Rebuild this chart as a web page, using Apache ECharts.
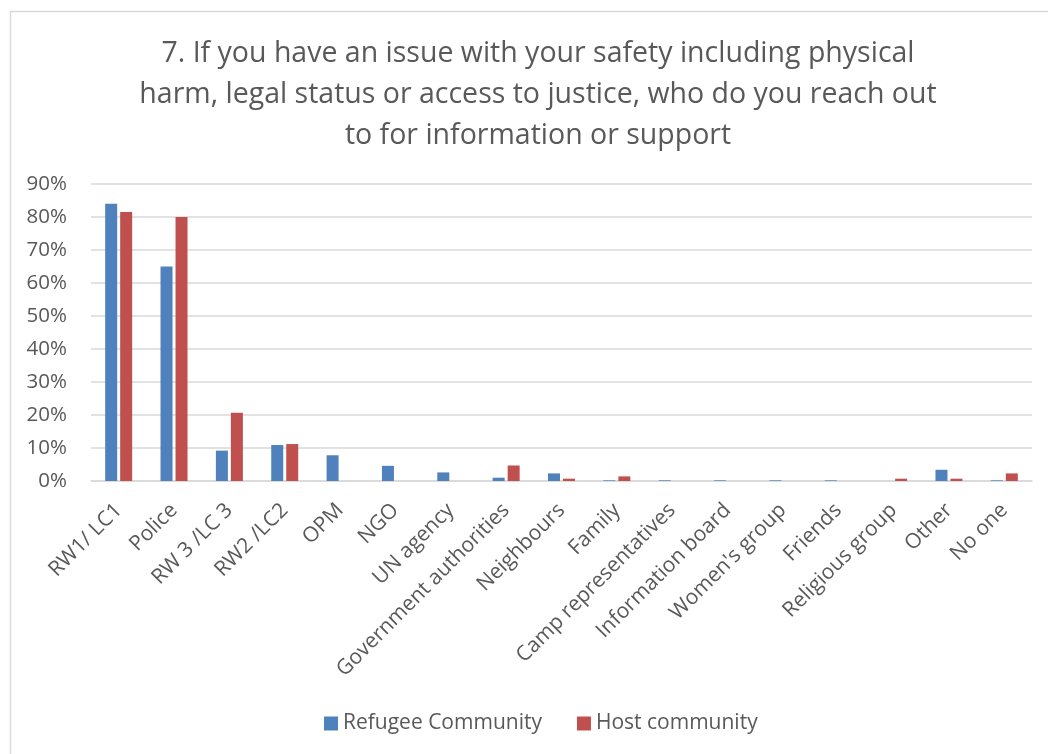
<!DOCTYPE html>
<html>
<head>
<meta charset="utf-8">
<script src="https://cdn.jsdelivr.net/npm/echarts@6/dist/echarts.min.js"></script>
<style>
  html, body { margin: 0; padding: 0; background: #fff; }
  #chart { width: 1048px; height: 754px; }
</style>
</head>
<body>
<div id="chart"></div>
<script>
// Who respondents reach out to for safety issues (share of respondents)
const categories = [
  'RW1/ LC1', 'Police', 'RW 3 /LC 3', 'RW2 /LC2', 'OPM', 'NGO', 'UN agency',
  'Government authorities', 'Neighbours', 'Family', 'Camp representatives',
  'Information board', "Women's group", 'Friends', 'Religious group', 'Other', 'No one'
];
const refugeeCommunity = [0.84, 0.65, 0.092, 0.109, 0.078, 0.046, 0.026, 0.010, 0.023, 0.002, 0.002, 0.002, 0.002, 0.002, 0, 0.034, 0.002];
const hostCommunity    = [0.815, 0.80, 0.207, 0.112, 0, 0, 0, 0.047, 0.007, 0.014, 0, 0, 0, 0, 0.007, 0.007, 0.023];
const yTicks = [0, 0.1, 0.2, 0.3, 0.4, 0.5, 0.6, 0.7, 0.8, 0.9];

const chartTitle = '7. If you have an issue with your safety including physical\nharm, legal status or access to justice, who do you reach out\nto for information or support';

const labelColor = '#595959';
const gridColor = '#d9d9d9';
const labelFont = '"Open Sans", Lato, sans-serif';

const chart = echarts.init(document.getElementById('chart'), null, { renderer: 'canvas' });
chart.setOption({
  animation: false,
  backgroundColor: '#ffffff',
  graphic: [{
    type: 'rect',
    shape: { x: 10.5, y: 11.5, width: 1100, height: 800 },
    style: { fill: 'none', stroke: gridColor, lineWidth: 1.5 },
    z: -10
  }],
  title: {
    text: chartTitle,
    left: 533,
    top: 28,
    textAlign: 'center',
    textStyle: {
      fontFamily: '"Open Sans", sans-serif',
      fontSize: 28.5,
      fontWeight: 'normal',
      color: labelColor,
      lineHeight: 41
    }
  },
  legend: {
    bottom: 20,
    left: 324,
    padding: 0,
    itemWidth: 14,
    itemHeight: 14,
    itemGap: 35,
    icon: 'rect',
    textStyle: {
      fontFamily: labelFont,
      fontSize: 21,
      color: labelColor,
      padding: [0, 0, 0, 0]
    },
    data: ['Refugee Community', 'Host community']
  },
  grid: {
    left: 91,
    right: 16,
    top: 184,
    bottom: 273,
    containLabel: false
  },
  xAxis: {
    type: 'category',
    data: categories,
    axisLine: { show: true, lineStyle: { color: gridColor, width: 1.5 } },
    axisTick: { show: false },
    axisLabel: {
      interval: 0,
      rotate: 45,
      margin: 26,
      fontFamily: labelFont,
      fontSize: 21,
      color: labelColor
    }
  },
  yAxis: {
    type: 'value',
    min: 0,
    max: yTicks[yTicks.length - 1],
    interval: 0.1,
    axisLine: { show: false },
    axisTick: { show: false },
    splitLine: { lineStyle: { color: gridColor, width: 1.5 } },
    axisLabel: {
      margin: 24,
      fontFamily: labelFont,
      fontSize: 20.5,
      color: labelColor,
      formatter: v => Math.round(v * 100) + '%'
    }
  },
  series: [
    {
      name: 'Refugee Community',
      type: 'bar',
      data: refugeeCommunity,
      barWidth: 12,
      barGap: '25%',
      itemStyle: { color: '#4f81bd' }
    },
    {
      name: 'Host community',
      type: 'bar',
      data: hostCommunity,
      barWidth: 12,
      barGap: '25%',
      itemStyle: { color: '#c0504d' }
    }
  ]
});
</script>
</body>
</html>
